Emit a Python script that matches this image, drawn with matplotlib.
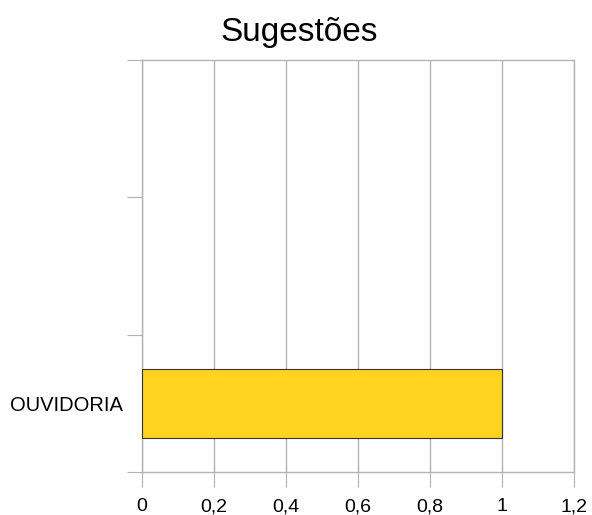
import matplotlib
matplotlib.use("Agg")
import matplotlib.pyplot as plt
import numpy as np

# dados do gráfico
categorias = ["OUVIDORIA", "", ""]
valores = [1, 0, 0]
x_ticks = [0, 0.2, 0.4, 0.6, 0.8, 1.0, 1.2]
x_labels = ["0", "0,2", "0,4", "0,6", "0,8", "1", "1,2"]
titulo = "Sugestões"

plt.rcParams["font.family"] = ["Liberation Sans", "DejaVu Sans"]

GRAY = "#b3b3b3"

fig = plt.figure(figsize=(5.92, 5.15), dpi=100)
ax = fig.add_axes([142 / 592, 1 - 472 / 515, (574 - 142) / 592, (472 - 60) / 515])

pos = np.arange(len(categorias))
ax.barh(pos[:1], valores[:1], height=0.5, color="#ffd320",
        edgecolor="#333333", linewidth=0.8, zorder=3)

ax.set_xlim(0, 1.2)
ax.set_ylim(-0.5, len(categorias) - 0.5)

ax.set_xticks(x_ticks)
ax.set_xticklabels(x_labels, fontsize=14)
ax.tick_params(axis="x", length=11, color=GRAY, pad=8)

# limites das categorias como ticks maiores, rótulos no centro (ticks menores)
ax.set_yticks(np.arange(len(categorias) + 1) - 0.5)
ax.set_yticklabels([])
ax.set_yticks(pos, minor=True)
ax.set_yticklabels(categorias, minor=True, fontsize=14.5)
ax.tick_params(axis="y", which="major", length=11, color=GRAY)
ax.tick_params(axis="y", which="minor", length=0, pad=14)

ax.grid(axis="x", color=GRAY, linewidth=1, zorder=0)
for s in ax.spines.values():
    s.set_color(GRAY)
    s.set_linewidth(1)

fig.text(0.505, 1 - 33 / 515, titulo, ha="center", va="center", fontsize=24)

fig.savefig("out.png", dpi=100)
